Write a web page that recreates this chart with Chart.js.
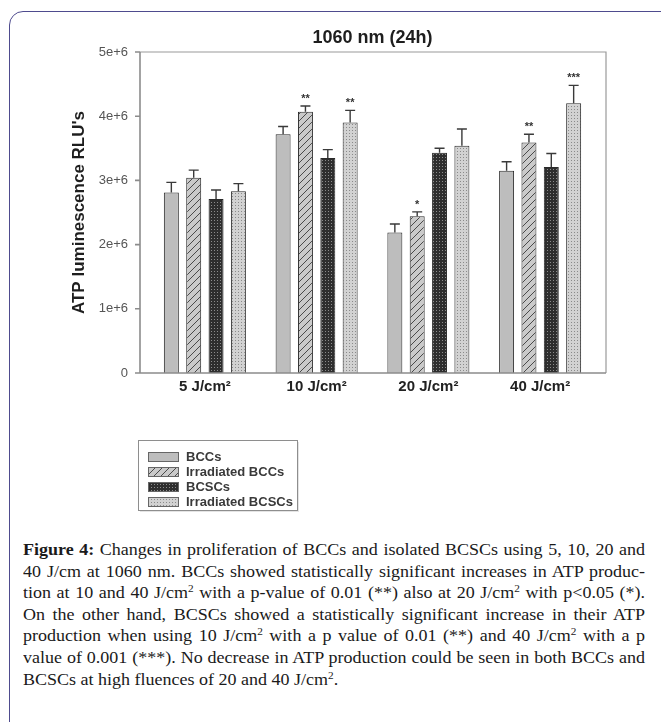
<!DOCTYPE html>
<html>
<head>
<meta charset="utf-8">
<script src="https://cdn.jsdelivr.net/npm/chart.js@4.4.1/dist/chart.umd.min.js"></script>
<style>
  body { margin: 0; width: 661px; height: 722px; overflow: hidden; background: #fff; position: relative; }
  .frame { position: absolute; left: 9px; top: 11px; width: 720px; height: 800px;
           border: 1.5px solid #4e4b8e; border-radius: 14px; }
  #wrap { position: absolute; left: 0; top: 0; width: 661px; height: 530px; }
  .caption { position: absolute; left: 23px; top: 539px; width: 622px;
             transform-origin: 0 0;
             font-family: "Liberation Serif", "Times New Roman", serif; font-size: 16px;
             line-height: 21.6px; color: #1a1a1a; }
  .caption div { white-space: nowrap; text-align: left; }
  .caption.just div { text-align: justify; text-align-last: justify; }
  .caption.just div.last { text-align-last: left; }
  .caption sup { font-size: 10px; vertical-align: 6px; line-height: 0; }
</style>
</head>
<body>
<div class="frame"></div>
<div id="wrap"><canvas id="c"></canvas></div>
<div class="caption" id="caption">
  <div><b>Figure 4:</b> Changes in proliferation of BCCs and isolated BCSCs using 5, 10, 20 and</div>
  <div>40 J/cm at 1060 nm. BCCs showed statistically significant increases in ATP produc-</div>
  <div>tion at 10 and 40 J/cm<sup>2</sup> with a p-value of 0.01 (**) also at 20 J/cm<sup>2</sup> with p&lt;0.05 (*).</div>
  <div>On the other hand, BCSCs showed a statistically significant increase in their ATP</div>
  <div>production when using 10 J/cm<sup>2</sup> with a p value of 0.01 (**) and 40 J/cm<sup>2</sup> with a p</div>
  <div>value of 0.001 (***). No decrease in ATP production could be seen in both BCCs and</div>
  <div class="last">BCSCs at high fluences of 20 and 40 J/cm<sup>2</sup>.</div>
</div>
<script>
const categories = ['5 J/cm²', '10 J/cm²', '20 J/cm²', '40 J/cm²'];
const seriesNames = ['BCCs', 'Irradiated BCCs', 'BCSCs', 'Irradiated BCSCs'];

const bccs     = [2.81e6, 3.72e6, 2.19e6, 3.15e6];
const irrBccs  = [3.04e6, 4.07e6, 2.44e6, 3.59e6];
const bcscs    = [2.71e6, 3.35e6, 3.43e6, 3.21e6];
const irrBcscs = [2.83e6, 3.90e6, 3.54e6, 4.20e6];

const bccsErr     = [0.16e6, 0.12e6, 0.13e6, 0.14e6];
const irrBccsErr  = [0.12e6, 0.09e6, 0.07e6, 0.13e6];
const bcscsErr    = [0.14e6, 0.13e6, 0.07e6, 0.21e6];
const irrBcscsErr = [0.12e6, 0.19e6, 0.26e6, 0.28e6];

const bccsSig     = ['', '', '', ''];
const irrBccsSig  = ['', '**', '*', '**'];
const bcscsSig    = ['', '', '', ''];
const irrBcscsSig = ['', '**', '', '***'];

const yTickLabels = ['0', '1e+6', '2e+6', '3e+6', '4e+6', '5e+6'];

const sans = "'Liberation Sans', Arial, Helvetica, sans-serif";

// caption text in the source is a little wider than Times; stretch it to the column
(function fitCaption() {
  const cap = document.getElementById('caption');
  const full = 622;
  let widest = 0;
  [...cap.children].forEach(d => {
    const r = document.createRange();
    r.selectNodeContents(d);
    widest = Math.max(widest, r.getBoundingClientRect().width);
  });
  const k = full / (widest * 1.01);
  cap.style.width = (full / k) + 'px';
  cap.style.transform = 'scaleX(' + k + ')';
  cap.classList.add('just');
})();

// fill patterns
function makePattern(size, draw) {
  const cv = document.createElement('canvas');
  cv.width = size; cv.height = size;
  const g = cv.getContext('2d');
  draw(g, size);
  return g.createPattern(cv, 'repeat');
}
const ctxMain = document.getElementById('c').getContext('2d');
const plainGray = '#bdbdbd';
const hatch = makePattern(7, (g, s) => {
  g.fillStyle = '#cacaca'; g.fillRect(0, 0, s, s);
  g.strokeStyle = '#4a4a4a'; g.lineWidth = 1;
  g.beginPath();
  g.moveTo(-1, s + 1); g.lineTo(s + 1, -1);
  g.moveTo(-1, 1); g.lineTo(1, -1);
  g.moveTo(s - 1, s + 1); g.lineTo(s + 1, s - 1);
  g.stroke();
});
const darkDots = makePattern(3, (g, s) => {
  g.fillStyle = '#2e2e2e'; g.fillRect(0, 0, s, s);
  g.fillStyle = '#8c8c8c'; g.fillRect(1, 1, 1, 1);
});
const lightDots = makePattern(3, (g, s) => {
  g.fillStyle = '#d2d2d2'; g.fillRect(0, 0, s, s);
  g.fillStyle = '#8a8a8a'; g.fillRect(1, 1, 1, 1);
});

const errors = [bccsErr, irrBccsErr, bcscsErr, irrBcscsErr];
const stars = [bccsSig, irrBccsSig, bcscsSig, irrBcscsSig];

// axis frame, tick marks, error bars and significance marks
const decorations = {
  id: 'decorations',
  afterDatasetsDraw(chart) {
    const {ctx, chartArea: a, scales: {y}} = chart;
    const fl = a.left - 9, fr = a.right + 10;
    ctx.save();
    // error bars
    ctx.strokeStyle = '#3a3a3a';
    ctx.lineWidth = 1.4;
    chart.data.datasets.forEach((ds, i) => {
      const meta = chart.getDatasetMeta(i);
      meta.data.forEach((bar, j) => {
        const top = y.getPixelForValue(ds.data[j] + errors[i][j]);
        ctx.beginPath();
        ctx.moveTo(bar.x, bar.y);
        ctx.lineTo(bar.x, top);
        ctx.moveTo(bar.x - 5, top);
        ctx.lineTo(bar.x + 5, top);
        ctx.stroke();
        if (stars[i][j]) {
          ctx.fillStyle = '#333';
          ctx.font = 'bold 11px ' + sans;
          ctx.textAlign = 'center';
          ctx.textBaseline = 'alphabetic';
          ctx.fillText(stars[i][j], bar.x, top - 4);
        }
      });
    });
    // frame
    ctx.strokeStyle = '#9a9a9a';
    ctx.lineWidth = 1.2;
    ctx.beginPath();
    ctx.moveTo(fl, a.top); ctx.lineTo(fr, a.top); ctx.lineTo(fr, a.bottom);
    ctx.stroke();
    ctx.strokeStyle = '#8c8c8c';
    ctx.lineWidth = 1.6;
    ctx.beginPath();
    ctx.moveTo(fl - 5, a.bottom); ctx.lineTo(fr, a.bottom);
    ctx.moveTo(fl, a.top); ctx.lineTo(fl, a.bottom);
    y.ticks.forEach(t => {
      const py = y.getPixelForValue(t.value);
      ctx.moveTo(fl - 5, py); ctx.lineTo(fl, py);
    });
    ctx.stroke();
    ctx.restore();
  }
};

// legend box under the plot
const boxLegend = {
  id: 'boxLegend',
  afterDraw(chart) {
    const {ctx, chartArea: a} = chart;
    const left = a.left - 11, top = a.bottom + 67, w = 159, h = 70;
    ctx.save();
    ctx.fillStyle = '#e4e4e4';
    ctx.fillRect(left + 2, top + 2, w, h);
    ctx.fillStyle = '#fff';
    ctx.fillRect(left, top, w, h);
    ctx.strokeStyle = '#8e8e8e';
    ctx.lineWidth = 1;
    ctx.strokeRect(left + 0.5, top + 0.5, w, h);
    ctx.font = 'bold 13px ' + sans;
    ctx.textBaseline = 'middle';
    ctx.textAlign = 'left';
    chart.data.datasets.forEach((ds, i) => {
      const cy = top + 17 + 15 * i;
      ctx.fillStyle = ds.backgroundColor;
      ctx.fillRect(left + 10, cy - 5, 31, 10);
      ctx.strokeStyle = '#666';
      ctx.strokeRect(left + 10.5, cy - 4.5, 30, 9);
      ctx.fillStyle = '#3a3a3a';
      ctx.fillText(ds.label, left + 48, cy);
    });
    ctx.restore();
  }
};

const fills = [plainGray, hatch, darkDots, lightDots];
const values = [bccs, irrBccs, bcscs, irrBcscs];

new Chart(ctxMain, {
  type: 'bar',
  data: {
    labels: categories,
    datasets: seriesNames.map((name, i) => ({
      label: name,
      data: values[i],
      backgroundColor: fills[i],
      borderColor: '#2a2a2a',
      borderWidth: 1,
      barPercentage: 0.67,
      categoryPercentage: 0.8
    }))
  },
  options: {
    responsive: true,
    maintainAspectRatio: false,
    animation: false,
    layout: { padding: { left: 60, right: 65, top: 10, bottom: 127 } },
    plugins: {
      legend: { display: false },
      tooltip: { enabled: false },
      title: {
        display: true,
        fullSize: false,
        text: '1060 nm (24h)',
        color: '#1e1e1e',
        font: { family: sans, size: 18, weight: 'bold' },
        padding: { top: 17, bottom: 3.4 }
      }
    },
    scales: {
      x: {
        grid: { display: false, drawTicks: false },
        border: { display: false },
        ticks: { color: '#222', padding: 5, font: { family: sans, size: 15, weight: 'bold' } },
        afterFit: s => { s.height = 30; }
      },
      y: {
        min: 0,
        max: 5e6,
        grid: { display: false, drawTicks: false },
        border: { display: false },
        ticks: {
          stepSize: 1e6,
          padding: 21,
          color: '#555',
          font: { family: sans, size: 13 },
          callback: v => yTickLabels[Math.round(v / 1e6)]
        },
        title: {
          display: true,
          text: "ATP luminescence RLU's",
          color: '#1e1e1e',
          font: { family: sans, size: 17, weight: 'bold' },
          padding: { top: 9, bottom: 0 }
        },
        afterFit: s => { s.width = 89; }
      }
    }
  },
  plugins: [decorations, boxLegend]
});
</script>
</body>
</html>
